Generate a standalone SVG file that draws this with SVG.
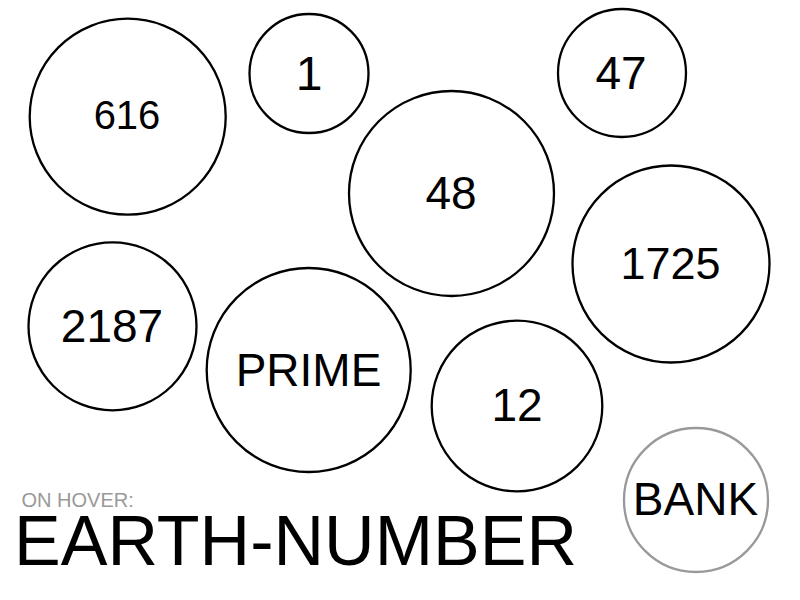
<svg xmlns="http://www.w3.org/2000/svg" width="800" height="600" viewBox="0 0 800 600">
<style>
.c{fill:#fff;stroke:#000;stroke-width:2.3}
.bank{fill:#fff;stroke:#999;stroke-width:2.3}
text{font-family:"Liberation Sans",Arial,sans-serif;fill:#000;text-anchor:middle}
.t{font-size:46px}
.hover{font-size:20px;fill:#999;text-anchor:start}
.big{font-size:70px;text-anchor:start}
</style>
<rect width="800" height="600" fill="#fff"/>
<g id="connectors"></g>
<g id="n616"><circle class="c" cx="127.7" cy="116.7" r="98"/><text x="127" y="129" style="font-size:40px">616</text></g>
<g id="n1"><circle class="c" cx="309" cy="73.5" r="59.5"/><text x="309" y="90" style="font-size:48px">1</text></g>
<g id="n47"><circle class="c" cx="622" cy="73" r="64"/><text x="621" y="89.3" class="t">47</text></g>
<g id="n48"><circle class="c" cx="451.5" cy="193.5" r="102.5"/><text x="451" y="209.3" class="t">48</text></g>
<g id="n1725"><circle class="c" cx="671" cy="264" r="98.5"/><text x="670.5" y="279.3" style="font-size:45px">1725</text></g>
<g id="n2187"><circle class="c" cx="112.5" cy="326.3" r="84"/><text x="112" y="341.7" class="t">2187</text></g>
<g id="nPRIME"><circle class="c" cx="308.7" cy="370" r="102"/><text x="308.5" y="386" class="t">PRIME</text></g>
<g id="n12"><circle class="c" cx="517" cy="406" r="85.3"/><text x="517" y="420.7" class="t">12</text></g>
<g id="nBANK"><circle class="bank" cx="696" cy="500" r="72"/><text x="695.5" y="515" class="t">BANK</text></g>
<g id="legend">
<text x="21.5" y="506.5" class="hover">ON HOVER:</text>
<text x="14" y="565" class="big" textLength="563" lengthAdjust="spacing">EARTH-NUMBER</text>
</g>
</svg>
